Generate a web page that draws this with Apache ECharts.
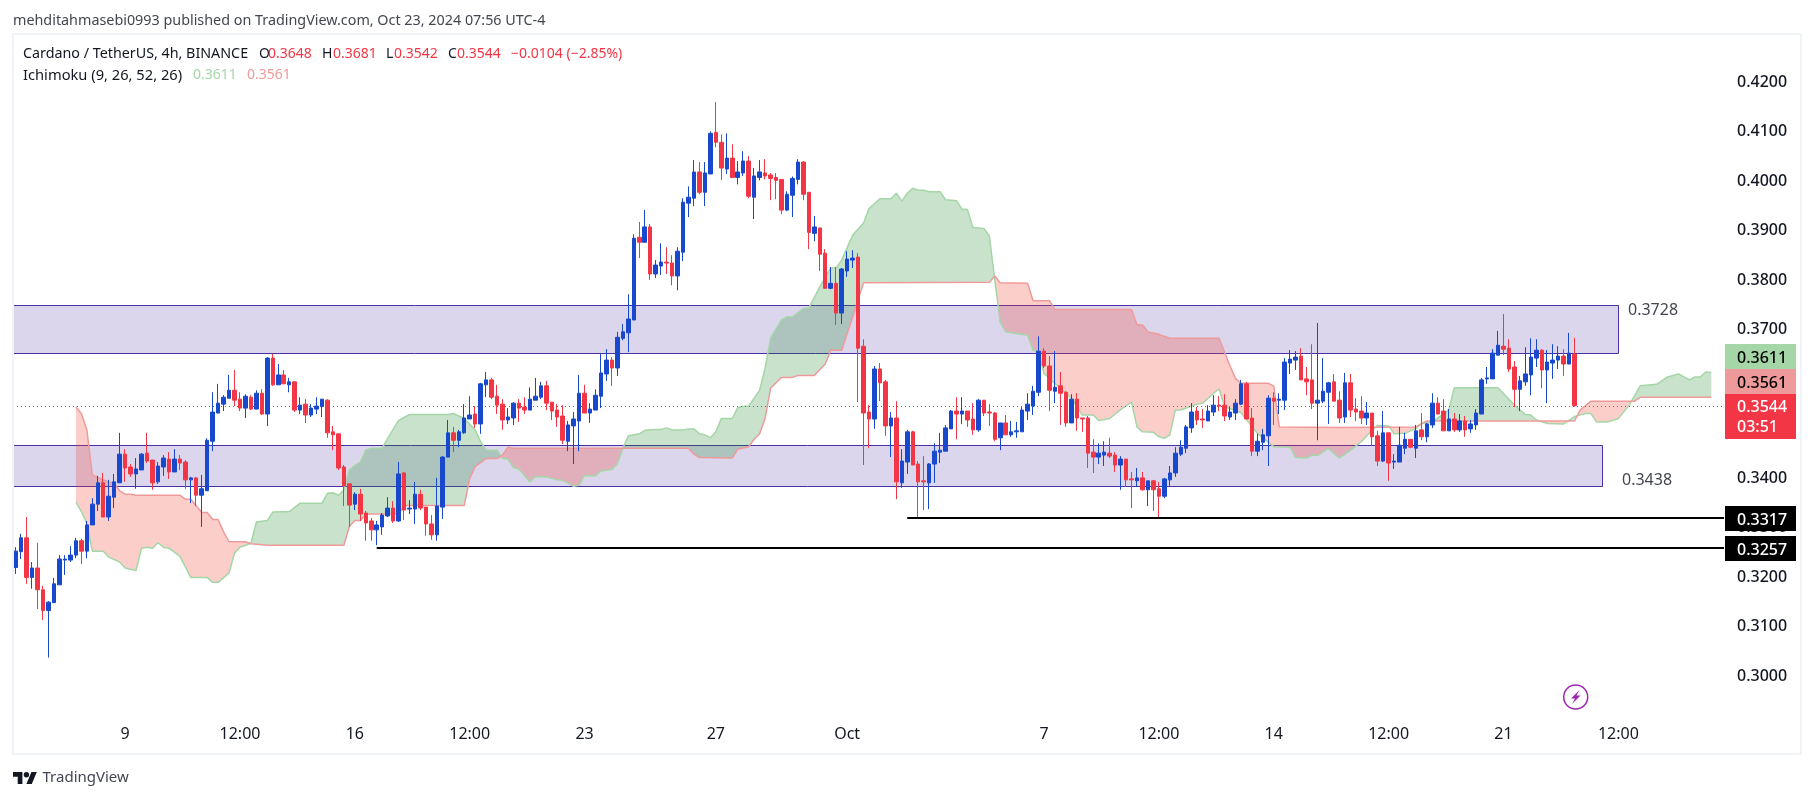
<!DOCTYPE html>
<html><head><meta charset="utf-8"><title>ADA/USDT</title>
<style>html,body{margin:0;padding:0;background:#fff}#c{width:1814px;height:798px}</style>
<script src="https://cdn.jsdelivr.net/npm/echarts@6/dist/echarts.min.js"></script>
</head><body><div id="c"></div>
<script>
// open, close, low, high for each 4h bar
const candles = [
[0.3217,0.3250,0.3204,0.3258],[0.3249,0.3277,0.3234,0.3285],[0.3277,0.3197,0.3184,0.3319],[0.3197,0.3216,0.3174,0.3228],[0.3216,0.3172,0.3133,0.3267],[0.3172,0.3130,0.3111,0.3180],[0.3130,0.3147,0.3035,0.3149],[0.3146,0.3184,0.3146,0.3196],[0.3182,0.3234,0.3182,0.3242],[0.3232,0.3234,0.3202,0.3242],
[0.3232,0.3242,0.3228,0.3260],[0.3242,0.3271,0.3236,0.3277],[0.3271,0.3250,0.3224,0.3275],[0.3250,0.3303,0.3236,0.3311],[0.3303,0.3345,0.3303,0.3357],[0.3345,0.3388,0.3331,0.3402],[0.3388,0.3319,0.3319,0.3408],[0.3319,0.3361,0.3311,0.3394],[0.3359,0.3390,0.3337,0.3406],[0.3388,0.3446,0.3388,0.3489],
[0.3446,0.3418,0.3390,0.3456],[0.3420,0.3406,0.3400,0.3426],[0.3406,0.3416,0.3376,0.3438],[0.3414,0.3446,0.3414,0.3448],[0.3448,0.3432,0.3428,0.3489],[0.3434,0.3388,0.3374,0.3434],[0.3390,0.3422,0.3386,0.3430],[0.3420,0.3438,0.3402,0.3444],[0.3436,0.3410,0.3396,0.3450],[0.3410,0.3436,0.3410,0.3456],
[0.3436,0.3428,0.3414,0.3444],[0.3430,0.3394,0.3376,0.3434],[0.3394,0.3398,0.3347,0.3400],[0.3398,0.3363,0.3341,0.3400],[0.3363,0.3376,0.3299,0.3404],[0.3372,0.3474,0.3372,0.3478],[0.3472,0.3531,0.3452,0.3571],[0.3529,0.3549,0.3529,0.3588],[0.3547,0.3561,0.3533,0.3565],[0.3559,0.3575,0.3559,0.3606],
[0.3575,0.3555,0.3543,0.3616],[0.3557,0.3539,0.3533,0.3571],[0.3539,0.3563,0.3519,0.3567],[0.3561,0.3537,0.3535,0.3565],[0.3537,0.3569,0.3537,0.3575],[0.3569,0.3527,0.3525,0.3577],[0.3527,0.3640,0.3503,0.3642],[0.3640,0.3586,0.3584,0.3649],[0.3586,0.3606,0.3586,0.3628],[0.3606,0.3588,0.3588,0.3616],
[0.3586,0.3592,0.3571,0.3600],[0.3592,0.3535,0.3531,0.3592],[0.3535,0.3545,0.3527,0.3561],[0.3547,0.3525,0.3509,0.3557],[0.3525,0.3539,0.3521,0.3547],[0.3537,0.3543,0.3527,0.3561],[0.3542,0.3557,0.3521,0.3557],[0.3555,0.3489,0.3479,0.3557],[0.3491,0.3485,0.3454,0.3503],[0.3487,0.3418,0.3414,0.3487],
[0.3420,0.3382,0.3341,0.3424],[0.3386,0.3343,0.3299,0.3386],[0.3345,0.3365,0.3333,0.3369],[0.3365,0.3325,0.3311,0.3376],[0.3327,0.3307,0.3271,0.3331],[0.3311,0.3293,0.3271,0.3317],[0.3293,0.3303,0.3262,0.3311],[0.3299,0.3323,0.3283,0.3327],[0.3321,0.3337,0.3319,0.3359],[0.3337,0.3311,0.3307,0.3351],
[0.3311,0.3406,0.3309,0.3430],[0.3408,0.3333,0.3313,0.3410],[0.3335,0.3337,0.3325,0.3353],[0.3335,0.3365,0.3305,0.3390],[0.3365,0.3337,0.3333,0.3374],[0.3339,0.3305,0.3281,0.3339],[0.3305,0.3283,0.3273,0.3323],[0.3283,0.3341,0.3271,0.3398],[0.3339,0.3440,0.3315,0.3442],[0.3440,0.3489,0.3440,0.3515],
[0.3489,0.3474,0.3450,0.3501],[0.3474,0.3491,0.3460,0.3495],[0.3489,0.3519,0.3487,0.3547],[0.3517,0.3525,0.3517,0.3563],[0.3527,0.3507,0.3499,0.3543],[0.3507,0.3588,0.3487,0.3590],[0.3586,0.3596,0.3561,0.3612],[0.3596,0.3561,0.3557,0.3600],[0.3563,0.3545,0.3527,0.3586],[0.3547,0.3515,0.3495,0.3557],
[0.3515,0.3521,0.3507,0.3539],[0.3519,0.3549,0.3505,0.3551],[0.3549,0.3539,0.3511,0.3557],[0.3541,0.3535,0.3527,0.3561],[0.3535,0.3557,0.3535,0.3581],[0.3555,0.3563,0.3555,0.3600],[0.3561,0.3584,0.3557,0.3592],[0.3584,0.3549,0.3535,0.3594],[0.3551,0.3533,0.3515,0.3551],[0.3535,0.3521,0.3501,0.3547],
[0.3523,0.3474,0.3466,0.3545],[0.3472,0.3505,0.3452,0.3513],[0.3503,0.3517,0.3426,0.3531],[0.3513,0.3569,0.3452,0.3606],[0.3569,0.3529,0.3529,0.3586],[0.3529,0.3537,0.3509,0.3549],[0.3535,0.3565,0.3535,0.3577],[0.3563,0.3610,0.3539,0.3648],[0.3608,0.3636,0.3594,0.3658],[0.3636,0.3620,0.3584,0.3642],
[0.3620,0.3682,0.3604,0.3693],[0.3680,0.3693,0.3676,0.3709],[0.3691,0.3719,0.3652,0.3769],[0.3717,0.3882,0.3717,0.3890],[0.3884,0.3874,0.3842,0.3915],[0.3874,0.3905,0.3874,0.3939],[0.3905,0.3810,0.3798,0.3911],[0.3810,0.3828,0.3802,0.3838],[0.3826,0.3834,0.3808,0.3872],[0.3834,0.3832,0.3810,0.3864],
[0.3832,0.3806,0.3787,0.3848],[0.3806,0.3856,0.3777,0.3864],[0.3854,0.3955,0.3836,0.3963],[0.3953,0.3965,0.3925,0.3987],[0.3963,0.4016,0.3947,0.4040],[0.4016,0.3975,0.3971,0.4036],[0.3975,0.4014,0.3947,0.4036],[0.4012,0.4094,0.4012,0.4098],[0.4096,0.4076,0.4066,0.4157],[0.4076,0.4024,0.4000,0.4092],
[0.4022,0.4044,0.4012,0.4094],[0.4044,0.4005,0.4005,0.4072],[0.4005,0.4016,0.3991,0.4038],[0.4014,0.4038,0.4008,0.4058],[0.4038,0.3967,0.3963,0.4048],[0.3965,0.4008,0.3921,0.4024],[0.4005,0.4016,0.3999,0.4040],[0.4014,0.4008,0.4001,0.4042],[0.4010,0.4003,0.3959,0.4014],[0.4005,0.3999,0.3961,0.4014],
[0.4001,0.3939,0.3931,0.4001],[0.3939,0.3971,0.3937,0.3977],[0.3969,0.4003,0.3925,0.4007],[0.4001,0.4036,0.3991,0.4042],[0.4036,0.3971,0.3959,0.4038],[0.3975,0.3894,0.3860,0.3975],[0.3892,0.3905,0.3876,0.3927],[0.3903,0.3850,0.3816,0.3903],[0.3852,0.3781,0.3781,0.3860],[0.3781,0.3791,0.3779,0.3824],
[0.3791,0.3731,0.3707,0.3824],[0.3731,0.3820,0.3709,0.3822],[0.3816,0.3840,0.3804,0.3856],[0.3838,0.3842,0.3822,0.3858],[0.3844,0.3660,0.3551,0.3852],[0.3664,0.3529,0.3424,0.3678],[0.3531,0.3517,0.3458,0.3545],[0.3517,0.3618,0.3497,0.3624],[0.3618,0.3590,0.3553,0.3630],[0.3592,0.3503,0.3483,0.3596],
[0.3503,0.3519,0.3440,0.3531],[0.3519,0.3390,0.3355,0.3553],[0.3388,0.3432,0.3378,0.3456],[0.3430,0.3491,0.3406,0.3495],[0.3491,0.3424,0.3424,0.3493],[0.3426,0.3390,0.3317,0.3432],[0.3392,0.3390,0.3333,0.3442],[0.3388,0.3426,0.3335,0.3428],[0.3426,0.3452,0.3388,0.3468],[0.3450,0.3454,0.3428,0.3489],
[0.3452,0.3499,0.3452,0.3505],[0.3497,0.3533,0.3497,0.3535],[0.3533,0.3527,0.3476,0.3561],[0.3527,0.3533,0.3507,0.3561],[0.3533,0.3515,0.3501,0.3533],[0.3517,0.3495,0.3485,0.3549],[0.3495,0.3555,0.3491,0.3557],[0.3555,0.3529,0.3523,0.3555],[0.3531,0.3529,0.3503,0.3547],[0.3529,0.3476,0.3472,0.3531],
[0.3479,0.3509,0.3454,0.3509],[0.3509,0.3485,0.3485,0.3525],[0.3485,0.3491,0.3481,0.3513],[0.3491,0.3493,0.3479,0.3511],[0.3491,0.3535,0.3491,0.3541],[0.3533,0.3547,0.3515,0.3569],[0.3543,0.3573,0.3525,0.3584],[0.3571,0.3654,0.3563,0.3684],[0.3654,0.3624,0.3620,0.3660],[0.3624,0.3575,0.3533,0.3644],
[0.3573,0.3581,0.3549,0.3654],[0.3584,0.3569,0.3505,0.3612],[0.3571,0.3509,0.3501,0.3573],[0.3509,0.3557,0.3509,0.3567],[0.3557,0.3519,0.3493,0.3569],[0.3519,0.3517,0.3491,0.3519],[0.3519,0.3448,0.3418,0.3523],[0.3450,0.3440,0.3408,0.3476],[0.3440,0.3448,0.3426,0.3468],[0.3444,0.3450,0.3422,0.3472],
[0.3448,0.3442,0.3438,0.3479],[0.3444,0.3424,0.3410,0.3450],[0.3424,0.3436,0.3374,0.3442],[0.3436,0.3394,0.3380,0.3436],[0.3396,0.3394,0.3337,0.3410],[0.3392,0.3398,0.3380,0.3418],[0.3398,0.3374,0.3372,0.3410],[0.3374,0.3392,0.3341,0.3392],[0.3392,0.3374,0.3331,0.3394],[0.3376,0.3361,0.3316,0.3390],
[0.3361,0.3396,0.3357,0.3398],[0.3394,0.3408,0.3382,0.3422],[0.3408,0.3448,0.3400,0.3460],[0.3446,0.3460,0.3442,0.3474],[0.3458,0.3501,0.3448,0.3505],[0.3499,0.3531,0.3489,0.3549],[0.3533,0.3515,0.3505,0.3541],[0.3517,0.3515,0.3499,0.3537],[0.3513,0.3533,0.3513,0.3545],[0.3531,0.3545,0.3523,0.3565],
[0.3545,0.3543,0.3533,0.3563],[0.3545,0.3523,0.3513,0.3567],[0.3521,0.3531,0.3515,0.3541],[0.3529,0.3549,0.3515,0.3557],[0.3547,0.3588,0.3545,0.3596],[0.3588,0.3517,0.3517,0.3592],[0.3519,0.3452,0.3442,0.3539],[0.3452,0.3472,0.3442,0.3487],[0.3470,0.3485,0.3454,0.3497],[0.3483,0.3559,0.3422,0.3565],
[0.3559,0.3553,0.3505,0.3571],[0.3555,0.3557,0.3527,0.3569],[0.3555,0.3632,0.3535,0.3640],[0.3630,0.3638,0.3608,0.3656],[0.3636,0.3642,0.3616,0.3654],[0.3644,0.3596,0.3596,0.3660],[0.3598,0.3592,0.3565,0.3622],[0.3596,0.3549,0.3537,0.3668],[0.3549,0.3555,0.3474,0.3711],[0.3553,0.3573,0.3549,0.3640],
[0.3571,0.3590,0.3507,0.3592],[0.3592,0.3553,0.3553,0.3608],[0.3555,0.3519,0.3509,0.3573],[0.3521,0.3590,0.3509,0.3610],[0.3590,0.3535,0.3521,0.3608],[0.3537,0.3531,0.3513,0.3559],[0.3533,0.3519,0.3507,0.3563],[0.3519,0.3529,0.3505,0.3551],[0.3529,0.3481,0.3464,0.3529],[0.3483,0.3432,0.3422,0.3493],
[0.3432,0.3489,0.3430,0.3533],[0.3489,0.3428,0.3392,0.3489],[0.3430,0.3432,0.3416,0.3446],[0.3430,0.3464,0.3430,0.3501],[0.3458,0.3476,0.3446,0.3489],[0.3476,0.3460,0.3458,0.3476],[0.3458,0.3493,0.3438,0.3505],[0.3495,0.3481,0.3474,0.3529],[0.3481,0.3507,0.3470,0.3509],[0.3505,0.3549,0.3499,0.3569],
[0.3549,0.3527,0.3527,0.3561],[0.3533,0.3493,0.3493,0.3557],[0.3493,0.3517,0.3493,0.3537],[0.3517,0.3495,0.3491,0.3529],[0.3495,0.3513,0.3491,0.3527],[0.3513,0.3495,0.3481,0.3523],[0.3497,0.3507,0.3489,0.3515],[0.3505,0.3529,0.3495,0.3537],[0.3527,0.3596,0.3527,0.3600],[0.3598,0.3600,0.3588,0.3622],
[0.3598,0.3650,0.3598,0.3658],[0.3646,0.3666,0.3646,0.3695],[0.3664,0.3658,0.3646,0.3729],[0.3660,0.3618,0.3612,0.3678],[0.3622,0.3577,0.3541,0.3634],[0.3577,0.3594,0.3533,0.3604],[0.3592,0.3608,0.3584,0.3662],[0.3606,0.3642,0.3565,0.3680],[0.3640,0.3656,0.3622,0.3678],[0.3656,0.3616,0.3579,0.3658],
[0.3616,0.3632,0.3549,0.3656],[0.3630,0.3636,0.3598,0.3668],[0.3636,0.3644,0.3618,0.3664],[0.3644,0.3628,0.3604,0.3658],[0.3628,0.3650,0.3628,0.3691],[0.3648,0.3544,0.3542,0.3681]
];
// Ichimoku leading span A: [bar, price]
const spanA = [[11,0.3349],[12,0.3330],[13,0.3306],[14,0.3250],[16,0.3250],[17,0.3238],[19,0.3228],[20,0.3216],[22,0.3211],[23,0.3256],[24,0.3258],[25,0.3256],[26,0.3267],[27,0.3258],[28,0.3256],[30,0.3240],[32,0.3197],[35,0.3197],[36,0.3187],[37,0.3187],[39,0.3206],[40,0.3246],[41,0.3258],[43,0.3266],[44,0.3309],[46,0.3312],[47,0.3329],[50,0.3330],[52,0.3347],[56,0.3347],[57,0.3367],[58,0.3368],[59,0.3363],[60,0.3374],[61,0.3414],[62,0.3423],[63,0.3430],[64,0.3454],[65,0.3458],[67,0.3458],[68,0.3478],[70,0.3514],[72,0.3526],[79,0.3526],[80,0.3528],[81,0.3523],[82,0.3518],[84,0.3495],[85,0.3471],[86,0.3454],[88,0.3454],[89,0.3437],[90,0.3436],[91,0.3419],[92,0.3416],[94,0.3390],[95,0.3401],[97,0.3400],[99,0.3394],[100,0.3393],[102,0.3381],[103,0.3383],[104,0.3403],[106,0.3402],[107,0.3412],[109,0.3415],[110,0.3427],[111,0.3458],[112,0.3483],[113,0.3485],[114,0.3487],[115,0.3494],[117,0.3496],[118,0.3496],[119,0.3499],[120,0.3495],[122,0.3495],[123,0.3497],[124,0.3497],[125,0.3487],[126,0.3485],[127,0.3479],[128,0.3491],[129,0.3518],[131,0.3518],[132,0.3540],[133,0.3542],[134,0.3543],[136,0.3575],[137,0.3619],[138,0.3680],[140,0.3717],[141,0.3723],[142,0.3723],[144,0.3740],[145,0.3741],[147,0.3784],[149,0.3822],[150,0.3822],[151,0.3838],[153,0.3888],[155,0.3913],[156,0.3942],[158,0.3962],[160,0.3962],[161,0.3973],[162,0.3957],[163,0.3973],[164,0.3983],[165,0.3979],[166,0.3979],[167,0.3976],[169,0.3976],[170,0.3960],[172,0.3958],[173,0.3941],[174,0.3940],[175,0.3904],[177,0.3902],[178,0.3887],[179,0.3798],[180,0.3712],[181,0.3693],[185,0.3686],[186,0.3656],[187,0.3653],[188,0.3609],[189,0.3599],[193,0.3559],[195,0.3525],[197,0.3525],[198,0.3514],[200,0.3518],[202,0.3536],[204,0.3551],[205,0.3501],[206,0.3491],[208,0.3490],[209,0.3481],[210,0.3478],[211,0.3485],[212,0.3535],[213,0.3535],[216,0.3547],[217,0.3549],[219,0.3569],[220,0.3578],[221,0.3542],[224,0.3530],[227,0.3488],[230,0.3461],[233,0.3460],[234,0.3439],[236,0.3438],[237,0.3444],[238,0.3443],[240,0.3458],[242,0.3438],[244,0.3454],[246,0.3471],[248,0.3495],[249,0.3504],[251,0.3503],[252,0.3487],[254,0.3488],[256,0.3498],[257,0.3508],[259,0.3511],[262,0.3535],[263,0.3580],[271,0.3580],[274,0.3545],[276,0.3526],[277,0.3525],[278,0.3515],[280,0.3508],[283,0.3507],[285,0.3522],[287,0.3528],[288,0.3528],[289,0.3511],[291,0.3511],[293,0.3518],[295,0.3545],[297,0.3584],[300,0.3587],[302,0.3602],[304,0.3608],[306,0.3596],[307,0.3602],[308,0.3602],[309,0.3612],[310,0.3611]];
// Ichimoku leading span B: [bar, price]
const spanB = [[11,0.3541],[12,0.3528],[13,0.3495],[14,0.3404],[15,0.3399],[17,0.3390],[18,0.3387],[19,0.3372],[20,0.3365],[21,0.3365],[22,0.3363],[30,0.3363],[31,0.3355],[32,0.3355],[34,0.3328],[35,0.3328],[36,0.3314],[37,0.3314],[38,0.3289],[39,0.3269],[42,0.3269],[43,0.3265],[46,0.3262],[60,0.3262],[61,0.3300],[62,0.3312],[63,0.3312],[64,0.3324],[65,0.3325],[70,0.3325],[71,0.3342],[82,0.3342],[83,0.3397],[84,0.3421],[86,0.3437],[88,0.3437],[89,0.3444],[90,0.3460],[91,0.3458],[123,0.3458],[124,0.3446],[125,0.3439],[131,0.3438],[132,0.3456],[134,0.3461],[135,0.3476],[136,0.3487],[137,0.3518],[138,0.3579],[140,0.3601],[142,0.3601],[143,0.3605],[146,0.3605],[148,0.3628],[149,0.3656],[151,0.3656],[153,0.3723],[155,0.3792],[178,0.3793],[179,0.3806],[180,0.3792],[185,0.3791],[186,0.3756],[189,0.3756],[190,0.3738],[204,0.3738],[205,0.3707],[206,0.3707],[207,0.3693],[209,0.3688],[211,0.3680],[220,0.3680],[222,0.3624],[223,0.3599],[224,0.3589],[229,0.3589],[230,0.3584],[231,0.3501],[242,0.3500],[256,0.3501],[258,0.3513],[285,0.3513],[286,0.3535],[288,0.3553],[296,0.3553],[297,0.3561],[310,0.3561]];

const barCount = 313;
const tickBars = [20,41,62,83,104,128,152,188,209,230,251,272,293];
const tickLabels = ['9','12:00','16','12:00','23','27','Oct','7','12:00','14','12:00','21','12:00'];
const zoneEndBar = [293,290];
const zoneTop = [0.3747,0.3464];
const zoneBottom = [0.3650,0.3381];
const levelStartBar = [163,66];
const levelPrice = [0.3317,0.3257];
const lastPrice = 0.3544;

const UP='#1848CC', DOWN='#F23645', TEXT='#131722', FONT='"Noto Sans"';
const cats = Array.from({length:barCount},(_,i)=>String(i));

function interp(pts,x){
  for(let k=1;k<pts.length;k++){ if(x<=pts[k][0]){const [x0,y0]=pts[k-1],[x1,y1]=pts[k];return y0+(y1-y0)*(x-x0)/(x1-x0);} }
  return pts[pts.length-1][1];
}
function renderCloud(params,api){
  const x0px=api.coord([0,0.36])[0], stepPx=api.coord([1,0.36])[0]-x0px;
  const px=x=>x0px+x*stepPx, py=v=>api.coord([0,v])[1];
  const xs=[...new Set(spanA.map(p=>p[0]).concat(spanB.map(p=>p[0])))].sort((a,b)=>a-b);
  const polys=[]; let up=[],lo=[],sign=0;
  const flush=()=>{ if(up.length>1){polys.push({type:'polygon',shape:{points:up.concat(lo.slice().reverse())},style:{fill:sign>0?'rgba(30,135,40,0.24)':'rgba(242,65,50,0.26)'}});} up=[];lo=[]; };
  const add=(x,a,b)=>{up.push([px(x),py(a)]);lo.push([px(x),py(b)]);};
  xs.forEach((x,k)=>{
    const a=interp(spanA,x),b=interp(spanB,x),s=a>=b?1:-1;
    if(k===0){sign=s;add(x,a,b);return;}
    if(s!==sign){
      const xp=xs[k-1],ap=interp(spanA,xp),bp=interp(spanB,xp);
      const t=(bp-ap)/((a-ap)-(b-bp)),xc=xp+(x-xp)*t,vc=ap+(a-ap)*t;
      add(xc,vc,vc);flush();sign=s;add(xc,vc,vc);
    }
    add(x,a,b);
  });
  flush();
  return {type:'group',children:polys};
}
function renderZone(params,api){
  const cs=params.coordSys, top=Math.round(api.coord([0,api.value(1)])[1])+0.5, bot=Math.round(api.coord([0,api.value(2)])[1])+0.5;
  const right=Math.round(api.coord([api.value(0),api.value(1)])[0])+0.5;
  return {type:'rect',shape:{x:cs.x,y:top,width:right-cs.x,height:bot-top},style:{fill:'#DBD6EC',stroke:'#4A2FA5',lineWidth:1}};
}
function renderLevel(params,api){
  const cs=params.coordSys,p=api.coord([api.value(0),api.value(1)]);
  return {type:'line',shape:{x1:p[0],y1:Math.round(p[1]),x2:cs.x+cs.width-1,y2:Math.round(p[1])},style:{stroke:'#000',lineWidth:2}};
}
function renderLast(params,api){
  const cs=params.coordSys,y=Math.round(api.coord([0,api.value(1)])[1])+0.5;
  return {type:'line',shape:{x1:cs.x,y1:y,x2:cs.x+cs.width,y2:y},style:{stroke:DOWN,lineWidth:1,lineDash:[1,3]}};
}
const txt=(text,x,y,fill,font,align)=>({type:'text',z:120,style:{text,x,y,fill,font:font||('14px '+FONT),align:align||'left',verticalAlign:'middle'}});

const headerTexts=[['mehditahmasebi0993 published on TradingView.com, Oct 23, 2024 07:56 UTC-4',13,21,'#434651','14.35px '+FONT]];
const legendTexts=[
['Cardano / TetherUS, 4h, BINANCE',23,54,'#131722','14.3px '+FONT],['O',259,54,'#131722'],['0.3648',268,54,DOWN],['H',322,54,'#131722'],['0.3681',333,54,DOWN],['L',386,54,'#131722'],['0.3542',394,54,DOWN],['C',448,54,'#131722'],['0.3544',457,54,DOWN],['\u22120.0104 (\u22122.85%)',511,54,DOWN],
['Ichimoku (9, 26, 52, 26)',23,75.5,'#131722','14.7px '+FONT],['0.3611',193,75.5,'#A5D6A7'],['0.3561',247,75.5,'#EF9A9A']
];
const tags=[
{y:344,h:25,bg:'#A5D6A7',fg:'#000',t:'0.3611'},
{y:369,h:25,bg:'#EF9A9A',fg:'#000',t:'0.3561'},
{y:394,h:45,bg:DOWN,fg:'#fff',t:'0.3544',t2:'03:51'},
{y:506,h:25,bg:'#000',fg:'#fff',t:'0.3317'},
{y:536,h:25,bg:'#000',fg:'#fff',t:'0.3257'}
];
const AXF='500 16px '+FONT;
const graphics=[
 {type:'rect',z:100,shape:{x:13,y:34,width:1788,height:720},style:{fill:'none',stroke:'#F0F3FA',lineWidth:2}},
 ...headerTexts.map(r=>txt(r[0],r[1],r[2],r[3],r[4])),
 ...legendTexts.map(r=>txt(r[0],r[1],r[2],r[3],r[4])),
 txt('0.3728',1628,310,'#434651','16px '+FONT),
 txt('0.3438',1622,480,'#434651','16px '+FONT),
 ...tags.flatMap(g=>{
   const els=[{type:'rect',z:110,shape:{x:1725,y:g.y,width:71,height:g.h},style:{fill:g.bg}},
     txt(g.t,1737,g.t2?g.y+13.5:g.y+14,g.fg,AXF)];
   if(g.t2) els.push(txt(g.t2,1737,g.y+33,g.fg,AXF));
   return els;
 }),
 {type:'circle',z:110,shape:{cx:1575.7,cy:697,r:12},style:{fill:'#fff',stroke:'#9C27B0',lineWidth:1.5}},
 {type:'polygon',z:111,shape:{points:[[1579.5,690],[1571,698.5],[1575,698.5],[1572,704],[1580.5,695.5],[1576.5,695.5]]},style:{fill:'#9C27B0'}},
 {type:'polygon',z:110,shape:{points:[[22.4,784],[17.7,784],[17.7,776.7],[13,776.7],[13,772],[22.4,772]]},style:{fill:'#131722'}},
 {type:'polygon',z:110,shape:{points:[[31.8,784],[26.4,784],[31.4,772],[36.8,772]]},style:{fill:'#131722'}},
 {type:'circle',z:110,shape:{cx:26.4,cy:774.7,r:2.7},style:{fill:'#131722'}},
 txt('TradingView',42.5,778,'#434651','15px '+FONT)
];

const chart=echarts.init(document.getElementById('c'),null,{width:1814,height:798});
chart.setOption({
 animation:false,backgroundColor:'#fff',
 grid:{left:13,width:1712,top:31.4,height:693,containLabel:false},
 xAxis:{type:'category',data:cats,boundaryGap:true,axisLine:{show:false},axisTick:{show:false},splitLine:{show:false},
   axisLabel:{margin:2,color:TEXT,fontFamily:'Noto Sans',fontSize:16,hideOverlap:false,
     interval:(i)=>tickBars.includes(i),formatter:(v)=>{const k=tickBars.indexOf(Number(v));return k>=0?tickLabels[k]:'';}}},
 yAxis:{type:'value',position:'right',min:0.29,max:0.43,interval:0.01,axisLine:{show:false},axisTick:{show:false},splitLine:{show:false},
   axisLabel:{margin:12,showMinLabel:false,showMaxLabel:false,formatter:v=>'{a|'+v.toFixed(4)+'}',
     rich:{a:{color:TEXT,fontFamily:'Noto Sans',fontSize:16,fontWeight:500,padding:[3,0,0,0]}}}},
 graphic:{elements:graphics},
 series:[
  {type:'custom',name:'Zones',z:1,silent:true,renderItem:renderZone,encode:{x:0,y:1},data:zoneEndBar.map((e,i)=>[e,zoneTop[i],zoneBottom[i]])},
  {type:'custom',name:'Cloud',z:2,silent:true,renderItem:renderCloud,encode:{x:0,y:1},data:[[0,0.36]]},
  {type:'line',name:'Span A',z:3,silent:true,showSymbol:false,data:spanA,lineStyle:{color:'#A5D6A7',width:1.5},itemStyle:{color:'#A5D6A7'}},
  {type:'line',name:'Span B',z:3,silent:true,showSymbol:false,data:spanB,lineStyle:{color:'#EF9A9A',width:1.5},itemStyle:{color:'#EF9A9A'}},
  {type:'custom',name:'Last',z:4,silent:true,renderItem:renderLast,encode:{x:0,y:1},data:[[0,lastPrice]]},
  {type:'candlestick',name:'ADAUSDT',z:5,silent:true,barWidth:4,data:candles,itemStyle:{color:UP,color0:DOWN,borderColor:UP,borderColor0:DOWN,borderWidth:1}},
  {type:'custom',name:'Levels',z:6,silent:true,renderItem:renderLevel,encode:{x:0,y:1},data:levelStartBar.map((s,i)=>[s,levelPrice[i]])}
 ]
});
</script></body></html>
